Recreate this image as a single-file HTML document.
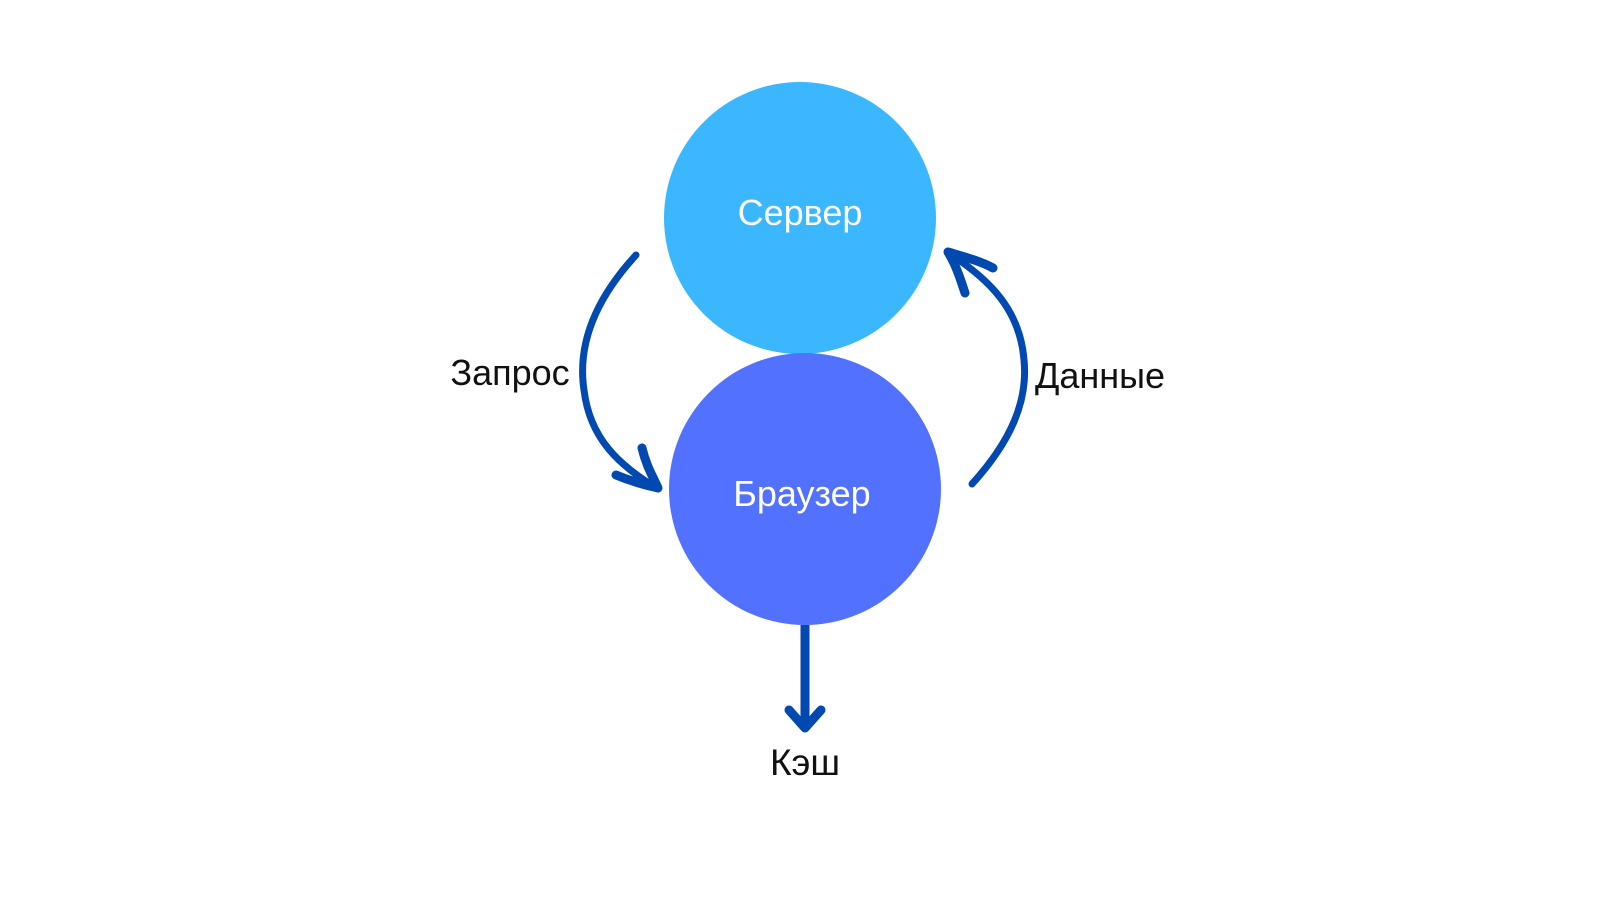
<!DOCTYPE html>
<html><head><meta charset="utf-8"><style>
html,body{margin:0;padding:0;background:#fff;}
svg{display:block}
</style></head><body>
<svg width="1600" height="900" viewBox="0 0 1600 900" xmlns="http://www.w3.org/2000/svg">
<rect width="1600" height="900" fill="#fff"/>
<circle cx="800" cy="218" r="136" fill="#3bb7ff"/>
<circle cx="805" cy="489" r="136" fill="#5271ff"/>
<g font-family="Liberation Sans, DejaVu Sans, sans-serif" text-anchor="middle">
<text x="800" y="225" font-size="36" fill="#fff">Сервер</text>
<text x="802" y="506" font-size="36" fill="#fff">Браузер</text>
<text x="510" y="385" font-size="36" fill="#111">Запрос</text>
<text x="1100" y="388" font-size="36" fill="#111">Данные</text>
<text x="805" y="775" font-size="37" fill="#111">Кэш</text>
</g>
<g fill="none" stroke="#0049b0" stroke-linecap="round" stroke-linejoin="round">
<path d="M636 255 C590 305 578 350 584 390 C590 440 620 465 656 488" stroke-width="7"/>
<path d="M642 448 C646 465 652 475 658 488 C640 484 628 480 616 475" stroke-width="9"/>
<path d="M972 484 C1012 440 1028 400 1024 360 C1020 310 990 280 950 254" stroke-width="7"/>
<path d="M965 293 C960 278 956 265 948 252 C965 257 980 261 993 268" stroke-width="9"/>
<path d="M805 625 L805 726" stroke-width="9" stroke-linecap="butt"/>
<path d="M789 710 L805 728 L821 710" stroke-width="9"/>
</g>
</svg>
</body></html>
